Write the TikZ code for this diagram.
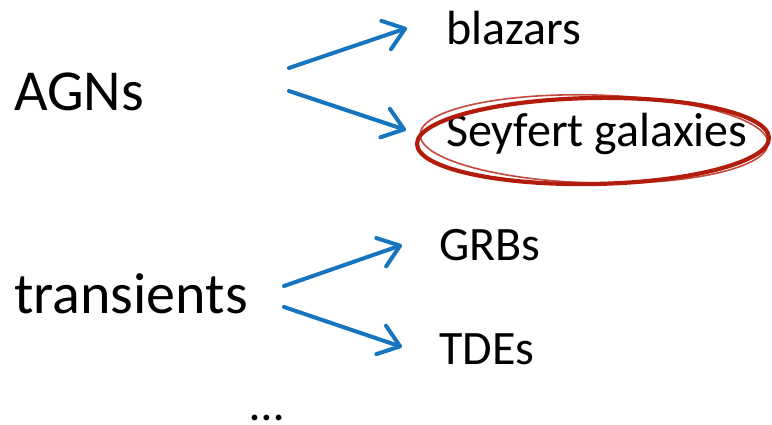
\documentclass[tikz,border=0pt]{standalone}
\usepackage{fontspec}
\setmainfont{Carlito}
\usetikzlibrary{arrows.meta}
\definecolor{penblue}{RGB}{22,117,190}
\definecolor{penred}{RGB}{178,28,12}
\tikzset{
  big/.style={font=\fontsize{58}{64}\selectfont, inner sep=0pt, anchor=base west},
  small/.style={font=\fontsize{48}{54}\selectfont, inner sep=0pt, anchor=base west},
  penarrow/.style={draw=penblue, line width=4pt, line cap=round,
    -{Straight Barb[length=20pt,width=30pt,line cap=round,line join=round]}},
  ring/.style={draw=penred, line width=4.2pt},
}
\begin{document}
\begin{tikzpicture}[x=1pt,y=-1pt]
  \useasboundingbox (0,0) rectangle (772,425);

  % categories
  \node[big] (agn) at (14,111) {AGNs};
  \node[big] (trans) at (14,313) {transients};

  % sub-classes
  \node[small] (blazar) at (446,45) {blazars};
  \node[small] (seyfert) at (446,147) {Seyfert galaxies};
  \node[small] (grb) at (439,261) {GRBs};
  \node[small] (tde) at (439,364) {TDEs};
  \node[small, anchor=base] (more) at (267,420) {\dots};

  % arrow end points
  \coordinate (a1s) at (289,68);  \coordinate (a1e) at (407,28);
  \coordinate (a2s) at (289,91);  \coordinate (a2e) at (406,130);
  \coordinate (t1s) at (284,286); \coordinate (t1e) at (402,245);
  \coordinate (t2s) at (284,307); \coordinate (t2e) at (402,347);

  \draw[penarrow] (a1s) -- (a1e);
  \draw[penarrow] (a2s) -- (a2e);
  \draw[penarrow] (t1s) -- (t1e);
  \draw[penarrow] (t2s) -- (t2e);

  % hand-drawn highlight around Seyfert galaxies
  \draw[ring] (593,141) ellipse [x radius=176, y radius=43, rotate=1];
  \draw[ring, line width=1.6pt, opacity=0.8] (594,139) ellipse [x radius=174, y radius=44, rotate=-1.5];
\end{tikzpicture}
\end{document}
